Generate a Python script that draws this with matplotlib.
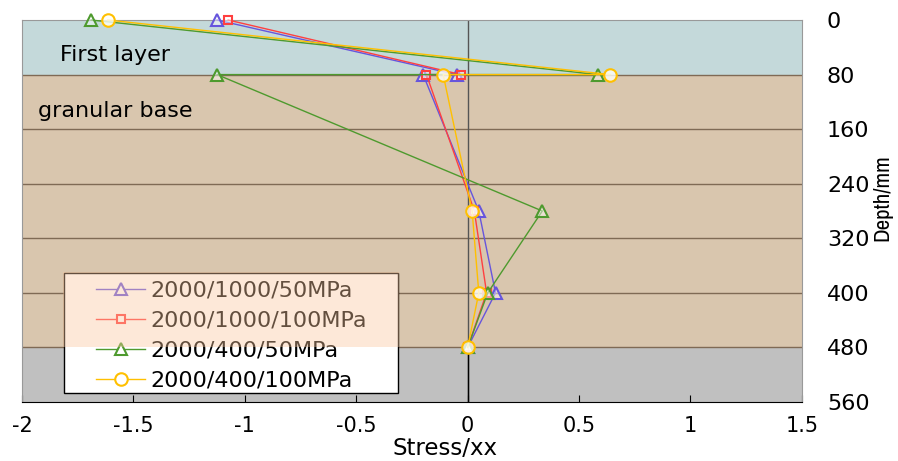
import matplotlib
matplotlib.use('Agg')
import matplotlib.pyplot as plt
from matplotlib.patches import Rectangle
from matplotlib.lines import Line2D

plt.rcParams['font.family'] = ['DejaVu Sans']

# Input data
depth = [0, 80, 80, 280, 400, 480]
s_1000_50 = [-1.125, -0.05, -0.20, 0.05, 0.125, 0.0]
s_1000_100 = [-1.075, -0.03, -0.185, 0.03, 0.085, 0.0]
s_400_50 = [-1.69, 0.585, -1.125, 0.335, 0.09, 0.0]
s_400_100 = [-1.615, 0.64, -0.11, 0.02, 0.05, 0.0]
labels = ['2000/1000/50MPa', '2000/1000/100MPa', '2000/400/50MPa', '2000/400/100MPa']

layer_bounds = [0, 80, 480, 560]
layer_colors = ['#C4D9DA', '#D9C6AE', '#C0C0C0']
grid_depths = [80, 160, 240, 320, 400, 480]
yticks = [0, 80, 160, 240, 320, 400, 480, 560]
xticks = [-2, -1.5, -1, -0.5, 0, 0.5, 1, 1.5]

fig = plt.figure(figsize=(8.98, 4.61), dpi=100)
ax = fig.add_axes([0.0245, 0.128, 0.8685, 0.8286])

# layer bands
for top, bot, c in zip(layer_bounds[:-1], layer_bounds[1:], layer_colors):
    ax.axhspan(top, bot, color=c, zorder=0, lw=0)
for d in grid_depths:
    ax.axhline(d, color='#7F6A55', lw=1, zorder=1)
ax.axvline(0, color='#555555', lw=1, zorder=1)
ax.plot([0, 0], [480, 560], color='black', lw=1, zorder=1)

styles = [
    (s_1000_50, '#6655DD', '^', 8, (1, 1, 1, 0.45)),
    (s_1000_100, '#FF4040', 's', 6, (1, 1, 1, 0.45)),
    (s_400_50, '#4E9A2E', '^', 8, (1, 1, 1, 0.45)),
    (s_400_100, '#FFC000', 'o', 9, (1, 1, 0.97, 0.8)),
]
handles = []
for (vals, col, mk, ms, mfc), lab in zip(styles, labels):
    ax.plot(vals, depth, color=col, lw=1, marker=mk, ms=ms, mfc=mfc,
            mec=col, mew=1.5, zorder=3, clip_on=False)
    handles.append(Line2D([], [], color=col, lw=1, marker=mk, ms=ms, mfc='white',
                          mec=col, mew=1.5, label=lab))

ax.text(-1.83, 51, 'First layer', fontsize=16, va='center', zorder=2)
ax.text(-1.93, 133, 'granular base', fontsize=16, va='center', zorder=2)

ax.set_xlim(-2, 1.5)
ax.set_ylim(560, 0)
ax.set_xticks(xticks)
ax.set_xticklabels(['-2', '-1.5', '-1', '-0.5', '0', '0.5', '1', '1.5'])
ax.set_yticks(yticks)
ax.yaxis.tick_right()
ax.yaxis.set_label_position('right')
ax.tick_params(axis='x', direction='in', length=5, labelsize=15, pad=10)
ax.tick_params(axis='y', length=0, labelsize=16, pad=18)
for lab in ax.get_yticklabels():
    lab.set_horizontalalignment('left')
ax.set_xlabel('Stress/xx', fontsize=16.5)
ax.xaxis.set_label_coords(0.542, -0.123)
ax.xaxis.label.set_va('center')
ax.set_ylabel('Depth/mm', fontsize=16.5, family=['Archivo Narrow', 'DejaVu Sans'])
ax.yaxis.set_label_coords(1.1026, 0.536)
ax.yaxis.label.set_va('center')

for side in ['left', 'top', 'right']:
    ax.spines[side].set_color('#999999')
ax.spines['bottom'].set_color('black')

# legend frame drawn as its own box, legend rows placed inside it
box_x0, box_x1, box_y0, box_y1 = 0.054, 0.482, 0.024, 0.338
ax.add_patch(Rectangle((box_x0, box_y0), box_x1 - box_x0, box_y1 - box_y0,
                       transform=ax.transAxes, facecolor='white', edgecolor='black',
                       lw=1, zorder=4))
leg = ax.legend(handles=handles, loc='upper left', bbox_to_anchor=(0.095, 0.318),
                fontsize=16, frameon=False, handlelength=2.2, labelspacing=0.45,
                borderpad=0, handletextpad=0.25, borderaxespad=0)
leg.set_zorder(5)

# tan layer shows through the upper part of the legend box
y_band = ax.transAxes.inverted().transform(ax.transData.transform((0, 480)))[1]
ax.add_patch(Rectangle((box_x0 - 0.002, y_band), box_x1 - box_x0 + 0.004, box_y1 - y_band + 0.003,
                       transform=ax.transAxes, facecolor=(0.98, 0.78, 0.62),
                       alpha=0.4, lw=0, zorder=6))

fig.savefig('out.png', dpi=100)
